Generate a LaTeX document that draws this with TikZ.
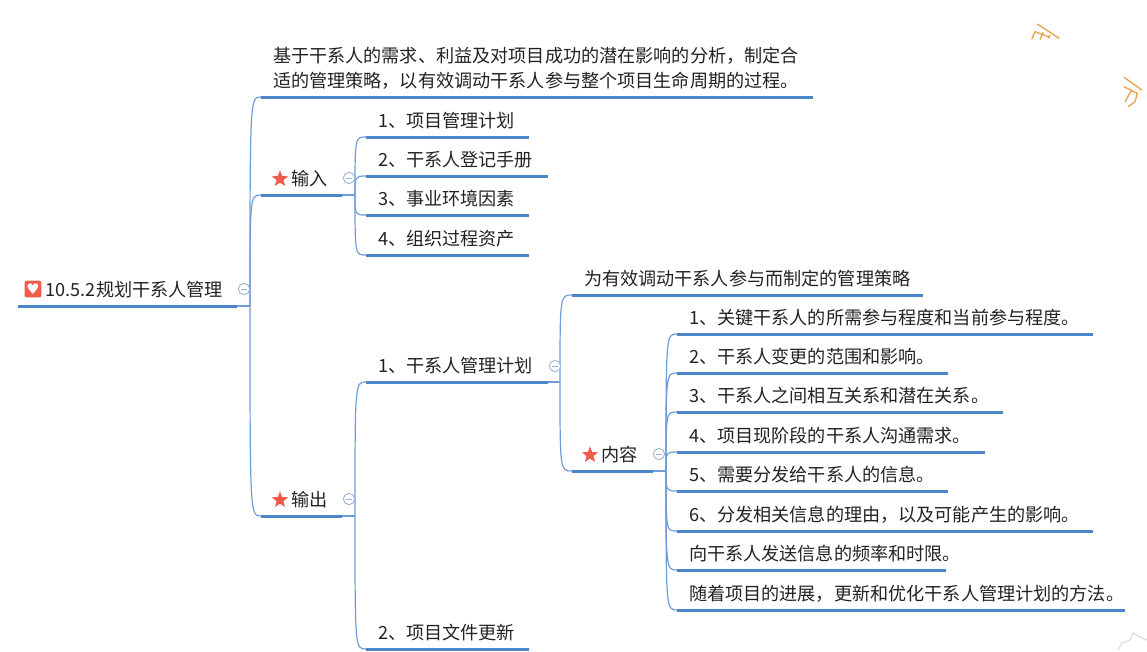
\documentclass[tikz,border=0pt]{standalone}
\usepackage{fontspec}
\setmainfont{Noto Sans CJK SC}
\newfontfamily\symbolfont{DejaVu Sans}
\usetikzlibrary{shapes.geometric}
\definecolor{barblue}{HTML}{4A86C8}
\definecolor{forkblue}{HTML}{6F9CD8}
\definecolor{foldblue}{HTML}{9DB6D8}
\definecolor{iconred}{HTML}{F15B4C}
\definecolor{inkgrey}{HTML}{222222}
\definecolor{scrap}{HTML}{E8A24C}
\tikzset{
    topic/.style={anchor=south west, inner xsep=8.8pt, inner ysep=4.9pt, text depth=2pt,
        text width=#1*0.75pt-17.6pt, align=left, text=inkgrey,
        font=\fontsize{13.6}{18.75}\selectfont},
    topicbar/.style={draw=barblue, line width=2.25pt},
    fork/.style={draw=forkblue, line width=0.9pt},
    indent/.style={execute at begin node=\hspace*{#1pt}},
    fold/.style={circle, draw=foldblue, line width=0.7pt, fill=white, minimum size=8.5pt, inner sep=0pt,
        path picture={\draw[foldblue, line width=0.7pt] ([xshift=-2pt]path picture bounding box.center) -- ([xshift=2pt]path picture bounding box.center);}},
    staricon/.style={star, star points=5, star point ratio=2.4, fill=iconred, minimum size=13pt, inner sep=0pt},
    hearticon/.style={fill=iconred, rounded corners=1.5pt, minimum size=12.5pt, inner sep=0pt, text=white,
        font=\symbolfont\fontsize{11}{11}\selectfont},
    scrapline/.style={draw=scrap, line width=1pt}
}
\begin{document}
\begin{tikzpicture}[x=0.75pt,y=-0.75pt]
    \useasboundingbox (0,0) rectangle (1147,651);

    % first level
    \node[topic=218, indent=11.75] (root) at (18,306) {10.5.2规划干系人管理};
    \node[topic=551, text depth=20.75pt] (purpose) at (261,97) {基于干系人的需求、利益及对项目成功的潜在影响的分析，制定合\\适的管理策略，以有效调动干系人参与整个项目生命周期的过程。};
    \node[topic=80, indent=14] (input) at (261,195) {输入};
    \node[topic=80, indent=14] (output) at (261,516) {输出};

    % inputs
    \node[topic=162] (plan) at (366,137) {1、项目管理计划};
    \node[topic=181] (register) at (366,176) {2、干系人登记手册};
    \node[topic=162] (factors) at (366,215) {3、事业环境因素};
    \node[topic=162] (assets) at (366,255) {4、组织过程资产};

    % outputs
    \node[topic=181] (mgmtplan) at (366,382) {1、干系人管理计划};
    \node[topic=162] (docs) at (366,649) {2、项目文件更新};
    \node[topic=350] (strategy) at (572,295) {为有效调动干系人参与而制定的管理策略};
    \node[topic=80, indent=13.25] (content) at (572,471) {内容};

    % content items
    \node[topic=415] (item1) at (677,334) {1、关键干系人的所需参与程度和当前参与程度。};
    \node[topic=270] (item2) at (677,373) {2、干系人变更的范围和影响。};
    \node[topic=325] (item3) at (677,412) {3、干系人之间相互关系和潜在关系。};
    \node[topic=307] (item4) at (677,452) {4、项目现阶段的干系人沟通需求。};
    \node[topic=270] (item5) at (677,491) {5、需要分发给干系人的信息。};
    \node[topic=415] (item6) at (677,531) {6、分发相关信息的理由，以及可能产生的影响。};
    \node[topic=268] (item7) at (677,570) {向干系人发送信息的频率和时限。};
    \node[topic=447] (item8) at (677,610) {随着项目的进展，更新和优化干系人管理计划的方法。};

    % forks
    \coordinate (rootfork) at (250,306);
    \coordinate (inputfork) at (355,195);
    \coordinate (outputfork) at (355,516);
    \coordinate (planfork) at (560,382);
    \coordinate (contentfork) at (666,471);

    \draw[fork] (root.south east) -- (rootfork);
    \draw[fork] (input.south east) -- (inputfork);
    \draw[fork] (output.south east) -- (outputfork);
    \draw[fork] (mgmtplan.south east) -- (planfork);
    \draw[fork] (content.south east) -- (contentfork);
    \foreach \kid in {purpose,input,output}
        \draw[fork] (rootfork) .. controls (rootfork |- \kid.south west) .. (\kid.south west);
    \foreach \kid in {plan,register,factors,assets}
        \draw[fork] (inputfork) .. controls (inputfork |- \kid.south west) .. (\kid.south west);
    \foreach \kid in {mgmtplan,docs}
        \draw[fork] (outputfork) .. controls (outputfork |- \kid.south west) .. (\kid.south west);
    \foreach \kid in {strategy,content}
        \draw[fork] (planfork) .. controls (planfork |- \kid.south west) .. (\kid.south west);
    \foreach \kid in {item1,item2,item3,item4,item5,item6,item7,item8}
        \draw[fork] (contentfork) .. controls (contentfork |- \kid.south west) .. (\kid.south west);

    % underlines
    \foreach \kid in {root,purpose,input,output,plan,register,factors,assets,mgmtplan,docs,strategy,content,item1,item2,item3,item4,item5,item6,item7,item8}
        \draw[topicbar] (\kid.south west) -- (\kid.south east);

    % fold marks
    \node[fold] (rootfold) at (244,289) {};
    \node[fold] (inputfold) at (349,178) {};
    \node[fold] (outputfold) at (349,499) {};
    \node[fold] (planfold) at (555,366) {};
    \node[fold] (contentfold) at (659,454) {};

    % icons
    \node[hearticon] (rootheart) at (33,289) {♥};
    \node[staricon] (inputstar) at (280,179) {};
    \node[staricon] (outputstar) at (280,500) {};
    \node[staricon] (contentstar) at (590,455) {};

    % stray scraps at the edge
    \draw[scrapline] (1037.3,24) -- (1059.3,38.3);
    \draw[scrapline] (1031.7,39.3) -- (1035,31.7) -- (1050,37.3);
    \draw[scrapline] (1043.3,32.3) -- (1040,39.3);
    \draw[scrapline] (1050,35) -- (1048.3,38.3);
    \draw[scrapline] (1124,77.3) -- (1141.7,90);
    \draw[scrapline] (1124,86.7) -- (1137.3,93.3) -- (1135,101.7) -- (1128.3,106.7);
    \draw[scrapline] (1131.7,90) -- (1125,101.7);
    \draw[gray!30, line width=0.8pt] (1118,650) -- (1122,643) -- (1130,640) -- (1133,633) -- (1140,637) -- (1147,640);
\end{tikzpicture}
\end{document}
